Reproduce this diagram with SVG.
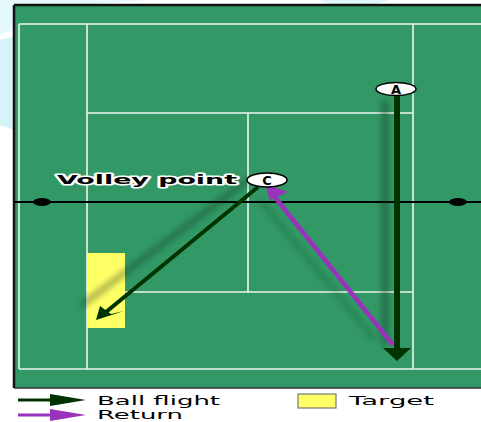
<svg xmlns="http://www.w3.org/2000/svg" width="481" height="422" viewBox="0 0 481 422">
<defs>
<style>
.ln{stroke:#eef4ee;stroke-width:1.6;fill:none}
.lbl{font-family:"DejaVu Sans",Verdana,sans-serif;font-weight:bold;fill:#000}
.leg{font-family:"DejaVu Sans",Verdana,sans-serif;font-size:12px;fill:#000}
.node{fill:#fff;stroke:#000;stroke-width:1.5}
</style>
<filter id="blur" x="-50%" y="-50%" width="200%" height="200%"><feGaussianBlur stdDeviation="3"/></filter>
</defs>
<rect width="481" height="422" fill="#fff"/>
<path d="M0 35 Q40 20 80 5 L150 0 L0 0 Z" fill="#dff6fb" opacity="0.8"/>
<path d="M0 40 L14 36 L14 130 L0 125 Z" fill="#d6f3fa"/>
<path d="M320 0 L390 0 L370 5 L330 5 Z" fill="#dff6fb"/>
<g id="court">
<rect x="14" y="5" width="467" height="383" fill="#329966"/>
<path d="M14 5 H481 M14 5 V388" stroke="#111" stroke-width="2.5" fill="none"/>
<path d="M14 388 H481" stroke="#333" stroke-width="1.5"/>
<path class="ln" d="M19 24 H481 M19 369 H481 M19 24 V369 M87 24 V369 M413 24 V369 M87 113 H413 M87 292 H413 M248 113 V292"/>
<rect id="target" x="87" y="253" width="38" height="75" fill="#ffff66"/>
<path d="M14 202 H481" stroke="#000" stroke-width="2"/>
<ellipse cx="42" cy="202" rx="9" ry="4" fill="#000"/>
<ellipse cx="458" cy="202" rx="9" ry="4" fill="#000"/>
</g>
<g id="shadows" filter="url(#blur)" opacity="0.45">
<path d="M385 100 V345" stroke="#0a2a14" stroke-width="6"/>
<path d="M248 180 L82 305" stroke="#0a2a14" stroke-width="5"/>
<path d="M375 340 L260 200" stroke="#0a2a14" stroke-width="4" opacity="0.6"/>
</g>
<g id="connectors">
<path d="M397 96 V349" stroke="#003300" stroke-width="6"/>
<path d="M383 348 L411 348 L397 361 Z" fill="#003300"/>
<path d="M258 187 L106 312" stroke="#003300" stroke-width="4"/>
<path d="M96 320 L100 306 L111 314 L124 311 Z" fill="#003300"/>
<path d="M393 345 L274 196" stroke="#9933bb" stroke-width="4.5"/>
<path d="M265 184 L288 192 L270 200 Z" fill="#9933bb"/>
</g>
<g id="nodeA">
<ellipse class="node" cx="396" cy="89" rx="20" ry="6.5"/>
<text class="lbl" x="396" y="93.5" font-size="13" text-anchor="middle">A</text>
</g>
<g id="nodeC">
<ellipse class="node" cx="267" cy="180" rx="20" ry="7"/>
<text class="lbl" x="267" y="185" font-size="13" text-anchor="middle">C</text>
<text class="lbl" x="57" y="184" font-size="13" textLength="180" lengthAdjust="spacingAndGlyphs" stroke="#fff" stroke-width="3" paint-order="stroke" stroke-linejoin="round">Volley point</text>
</g>
<g id="legend">
<path d="M18 400 H58" stroke="#003300" stroke-width="3"/>
<path d="M50 394 L86 400 L50 406 Z" fill="#003300"/>
<path d="M18 415 H58" stroke="#9933bb" stroke-width="3"/>
<path d="M50 409 L86 415 L50 421 Z" fill="#9933bb"/>
<text class="leg" x="97" y="405" textLength="123" lengthAdjust="spacingAndGlyphs">Ball flight</text>
<text class="leg" x="97" y="419" textLength="86" lengthAdjust="spacingAndGlyphs">Return</text>
<rect x="298" y="394" width="38" height="14" fill="#ffff66" stroke="#777" stroke-width="1.2"/>
<text class="leg" x="349" y="405" textLength="85" lengthAdjust="spacingAndGlyphs">Target</text>
</g>
</svg>
